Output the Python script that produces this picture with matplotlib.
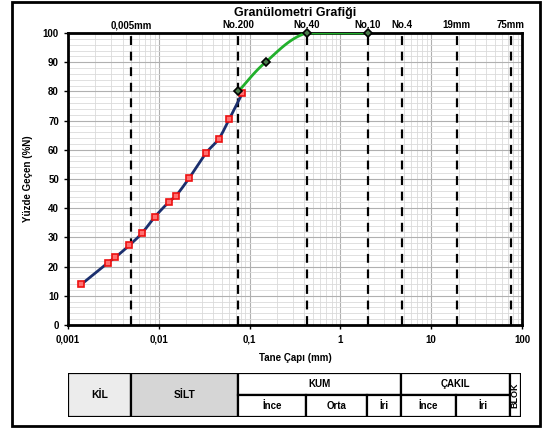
import numpy as np
import matplotlib.pyplot as plt
from matplotlib.patches import Rectangle
from matplotlib.ticker import FixedLocator, NullFormatter

plt.rcParams['font.family'] = ['Liberation Sans Narrow', 'Liberation Sans', 'DejaVu Sans']
plt.rcParams['font.weight'] = 'bold'

# hidrometre (red squares)
hyd_d = [0.00140, 0.00274, 0.00333, 0.00474, 0.00654, 0.00902, 0.01288,
         0.01552, 0.02159, 0.03296, 0.04585, 0.0597, 0.0830]
hyd_p = [13.9, 21.3, 23.2, 27.3, 31.5, 37.0, 42.1, 44.3, 50.3, 58.8, 63.8, 70.5, 79.3]

# elek analizi (black diamonds)
sieve_d = [0.075, 0.15, 0.425, 2.0]
sieve_p = [80.0, 90.0, 100.0, 100.0]

# dashed limits on top
lim_d = [0.005, 0.075, 0.425, 2.0, 4.75, 19.0, 75.0]
lim_lbl = ['0,005mm', 'No.200', 'No.40', 'No.10', 'No.4', '19mm', '75mm']

xticks = [0.001, 0.01, 0.1, 1, 10, 100]
xtick_lbl = ['0,001', '0,01', '0,1', '1', '10', '100']


def smooth(x, y, n=30):
    # catmull-rom through the points, in log-x space
    lx = np.log10(x)
    y = np.asarray(y, float)
    P = np.column_stack([lx, y])
    P = np.vstack([P[0] * 2 - P[1], P, P[-1] * 2 - P[-2]])
    out = []
    for i in range(1, len(P) - 2):
        p0, p1, p2, p3 = P[i - 1], P[i], P[i + 1], P[i + 2]
        t = np.linspace(0, 1, n)[:, None]
        c = 0.5 * ((2 * p1) + (-p0 + p2) * t + (2 * p0 - 5 * p1 + 4 * p2 - p3) * t ** 2
                   + (-p0 + 3 * p1 - 3 * p2 + p3) * t ** 3)
        out.append(c)
    c = np.vstack(out)
    return 10 ** c[:, 0], np.minimum(c[:, 1], 100)


fig = plt.figure(figsize=(5.45, 4.28), dpi=100)
W, H = 545, 428

# outer frame
fig.add_artist(Rectangle((12 / W, 2 / H), 528 / W, 424 / H, transform=fig.transFigure,
                         fill=False, lw=2, ec='black'))

ax = fig.add_axes([68 / W, 1 - 325 / H, 454 / W, 292 / H])
ax.set_xscale('log')
ax.set_xlim(0.001, 100)
ax.set_ylim(0, 100)

ax.xaxis.set_major_locator(FixedLocator(xticks))
ax.set_xticklabels(xtick_lbl)
minors = [m * 10.0 ** e for e in range(-3, 2) for m in range(2, 10)]
ax.xaxis.set_minor_locator(FixedLocator(minors))
ax.xaxis.set_minor_formatter(NullFormatter())
ax.set_yticks(np.arange(0, 101, 10))
ax.set_yticks(np.arange(0, 101, 2), minor=True)
ax.grid(True, which='major', color='#b0b0b0', lw=0.8)
ax.grid(True, which='minor', color='#dadada', lw=0.6)
ax.tick_params(axis='both', which='major', labelsize=7, length=3, width=1)
ax.tick_params(axis='both', which='minor', length=0)
ax.tick_params(axis='x', pad=4)
for s in ax.spines.values():
    s.set_linewidth(2)

for d, lbl in zip(lim_d, lim_lbl):
    ax.axvline(d, color='black', lw=1.6, ls=(0, (4, 3)), zorder=2)
    ax.text(d, 100.9, lbl, ha='center', va='bottom', fontsize=7, fontweight='bold')

hx, hy = smooth(hyd_d, hyd_p)
ax.plot(hx, hy, color='#1b2f6e', lw=2, zorder=3)
sx, sy = smooth(sieve_d, sieve_p)
ax.plot(sx, sy, color='#22b02c', lw=2, zorder=3)
ax.plot(hyd_d, hyd_p, ls='none', marker='s', ms=4.8, mfc='#ff7070', mec='#ee1111',
        mew=1.2, zorder=4)
ax.plot(sieve_d, sieve_p, ls='none', marker='D', ms=4.2, mfc='#4a7a4a', mec='black',
        mew=1.2, zorder=5, clip_on=False)

ax.set_ylabel('Yüzde Geçen (%N)', fontsize=7, fontweight='bold', labelpad=7)
ax.set_xlabel('Tane Çapı (mm)', fontsize=7, fontweight='bold', labelpad=6)
ax.set_title('Granülometri Grafiği', fontsize=9, fontweight='bold', pad=12)

# soil classification table
tb = fig.add_axes([68 / W, 1 - 417 / H, 453 / W, 44 / H])
tb.set_xscale('log')
tb.set_xlim(0.001, 100)
tb.set_ylim(0, 2)
tb.axis('off')

lw = 1.6
full = [(0.001, 0.005, 'KİL', '#ececec'), (0.005, 0.075, 'SİLT', '#d6d6d6')]
for a, b, t, c in full:
    tb.add_patch(Rectangle((a, 0), b - a, 2, fc=c, ec='black', lw=lw))
    tb.text(np.sqrt(a * b), 1, t, ha='center', va='center', fontsize=7.5)
groups = [(0.075, 4.75, 'KUM'), (4.75, 75.0, 'ÇAKIL')]
for a, b, t in groups:
    tb.add_patch(Rectangle((a, 1), b - a, 1, fc='white', ec='black', lw=lw))
    tb.text(np.sqrt(a * b), 1.5, t, ha='center', va='center', fontsize=7)
subs = [(0.075, 0.425, 'İnce'), (0.425, 2.0, 'Orta'), (2.0, 4.75, 'İri'),
        (4.75, 19.0, 'İnce'), (19.0, 75.0, 'İri')]
for a, b, t in subs:
    tb.add_patch(Rectangle((a, 0), b - a, 1, fc='white', ec='black', lw=lw))
    tb.text(np.sqrt(a * b), 0.5, t, ha='center', va='center', fontsize=7)
tb.add_patch(Rectangle((75.0, 0), 25.0, 2, fc='white', ec='black', lw=lw))
tb.text(np.sqrt(75.0 * 100), 1, 'BLOK', ha='center', va='center', fontsize=6.5,
        rotation=90)

fig.savefig('out.png', dpi=100)
